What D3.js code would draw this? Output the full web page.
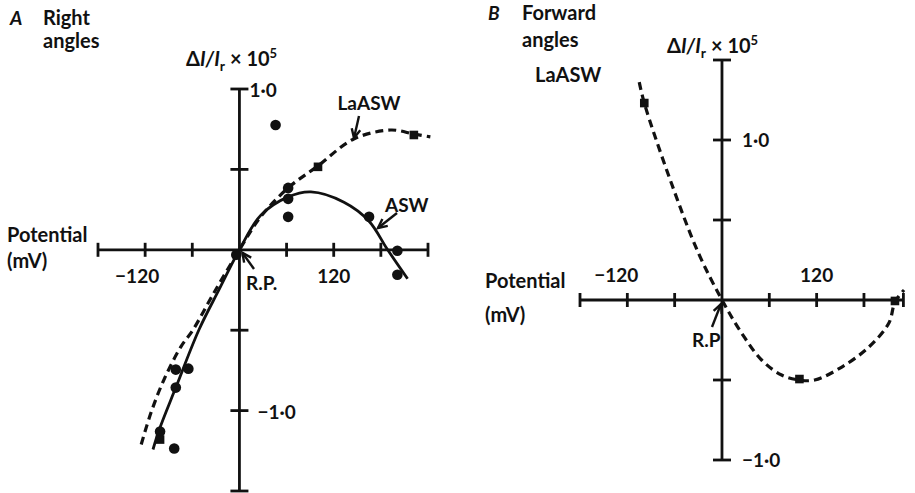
<!DOCTYPE html>
<html>
<head>
<meta charset="utf-8">
<script src="https://cdn.jsdelivr.net/npm/d3@7"></script>
<style>
  html, body { margin: 0; padding: 0; background: #fff; }
  text { font-family: Lato, "Open Sans", sans-serif; font-weight: 700; fill: #111; }
</style>
</head>
<body>
<svg id="chart" width="915" height="493"></svg>
<script>
// ---------- DATA (mV, ΔI/Ir ×10^5) ----------
// Panel A – right angles
const aAswPoints = [
  [46, 0.776], [62, 0.385], [62, 0.317], [62, 0.205], [165, 0.205],
  [201, -0.006], [201, -0.155], [-4, -0.031],
  [-81, -0.745], [-65, -0.739], [-81, -0.857], [-101, -1.13], [-83, -1.236]
];
const aLaAswPoints = [[-101, -1.18], [100, 0.516], [222, 0.714]];
const aAswCurve = [
  [-110, -1.242], [-102, -1.118], [-81, -0.857], [-51.5, -0.497], [-26, -0.248],
  [0, 0], [27, 0.214], [62, 0.329], [91, 0.36], [133, 0.296], [165, 0.178],
  [188, 0.005], [214, -0.18]
];
const aLaAswCurve = [
  [-125, -1.211], [-112.5, -1.012], [-96, -0.807], [-74.4, -0.602], [-59, -0.497],
  [-32.4, -0.267], [0, 0], [27, 0.205], [62, 0.385], [100, 0.522],
  [145.5, 0.689], [192.6, 0.745], [222, 0.72], [243, 0.702]
];
// Panel B – forward angles
const bLaAswPoints = [[-98.5, 1.231], [98.2, -0.494], [219.3, -0.006]];
const bLaAswCurve = [
  [-104.9, 1.362], [-98.5, 1.231], [-64.2, 0.731], [-29.9, 0.294], [0, 0],
  [24.8, -0.206], [50.2, -0.375], [75.6, -0.469], [98.2, -0.5], [117.6, -0.5],
  [151.9, -0.419], [186.2, -0.294], [211.6, -0.144], [219.3, -0.0125], [230.8, 0.0625]
];
// Axis ticks and labels
const aXTicks = [-180, -120, -60, 0, 60, 120, 180, 240];
const aYTicks = [-1.5, -1.0, -0.5, 0, 0.5, 1.0];
const bXTicks = [-180, -120, -60, 0, 60, 120, 180, 230];
const bYTicks = [-1.0, -0.5, 0, 0.5, 1.0, 1.5];
const xTickLabels = [[-120, "\u2212120"], [120, "120"]];

// ---------- DRAW ----------
const svg = d3.select("#chart");
svg.append("rect").attr("width", 915).attr("height", 493).attr("fill", "#fff");

function panel(cfg) {
  const x = d3.scaleLinear().domain(cfg.xDomain).range(cfg.xRange);
  const y = d3.scaleLinear().domain(cfg.yDomain).range(cfg.yRange);
  const g = svg.append("g");
  const x0 = x(0), y0 = y(0);
  const ink = "#111";
  g.append("line").attr("x1", x(cfg.xDomain[0])).attr("x2", x(cfg.xDomain[1]))
    .attr("y1", y0).attr("y2", y0).attr("stroke", ink).attr("stroke-width", 2.8);
  g.append("line").attr("x1", x0).attr("x2", x0)
    .attr("y1", y(cfg.yDomain[0])).attr("y2", y(cfg.yDomain[1])).attr("stroke", ink).attr("stroke-width", 2.8);
  g.selectAll(".xt").data(cfg.xTicks.filter(d => d !== 0)).join("line")
    .attr("x1", d => x(d)).attr("x2", d => x(d)).attr("y1", y0 - 7).attr("y2", y0 + 7)
    .attr("stroke", ink).attr("stroke-width", 2.8);
  g.selectAll(".yt").data(cfg.yTicks.filter(d => d !== 0)).join("line")
    .attr("y1", d => y(d)).attr("y2", d => y(d)).attr("x1", x0 - 9).attr("x2", x0 + 9)
    .attr("stroke", ink).attr("stroke-width", 2.8);
  const line = d3.line().x(d => x(d[0])).y(d => y(d[1])).curve(d3.curveCatmullRom.alpha(0.5));
  (cfg.solid || []).forEach(c => g.append("path").attr("d", line(c)).attr("fill", "none")
    .attr("stroke", ink).attr("stroke-width", 2.8));
  (cfg.dashed || []).forEach(c => g.append("path").attr("d", line(c)).attr("fill", "none")
    .attr("stroke", ink).attr("stroke-width", 3.2).attr("stroke-dasharray", "8,5"));
  g.selectAll(".dot").data(cfg.circles || []).join("circle")
    .attr("cx", d => x(d[0])).attr("cy", d => y(d[1])).attr("r", 5.3).attr("fill", ink);
  g.selectAll(".sq").data(cfg.squares || []).join("rect")
    .attr("x", d => x(d[0]) - 4.3).attr("y", d => y(d[1]) - 4.3)
    .attr("width", 8.6).attr("height", 8.6).attr("fill", ink);
  return { g, x, y };
}

function arrow(g, x1, y1, x2, y2) {
  g.append("line").attr("x1", x1).attr("y1", y1).attr("x2", x2).attr("y2", y2)
    .attr("stroke", "#111").attr("stroke-width", 2.4);
  const ang = Math.atan2(y2 - y1, x2 - x1), L = 10, sp = 0.45;
  const p = [[x2 - L * Math.cos(ang - sp), y2 - L * Math.sin(ang - sp)], [x2, y2],
             [x2 - L * Math.cos(ang + sp), y2 - L * Math.sin(ang + sp)]];
  g.append("polyline").attr("points", p.map(q => q.join(",")).join(" "))
    .attr("fill", "none").attr("stroke", "#111").attr("stroke-width", 2.4);
}

function yLabel(sel, px, py) {
  const t = sel.append("text").attr("x", px).attr("y", py).attr("font-size", 20).attr("font-weight", 500);
  t.append("tspan").text("\u0394");
  t.append("tspan").attr("font-style", "italic").text("I/I");
  t.append("tspan").attr("font-size", 14).attr("dy", 5).text("r");
  t.append("tspan").attr("dy", -5).text(" \u00d7 10");
  t.append("tspan").attr("font-size", 13).attr("dy", -8).text("5");
}

function txt(sel, s, px, py, opts = {}) {
  return sel.append("text").attr("x", px).attr("y", py).attr("font-size", opts.size || 19)
    .attr("text-anchor", opts.anchor || "start").attr("font-style", opts.italic ? "italic" : "normal")
    .text(s);
}

// Panel A
const A = panel({
  xDomain: [-180, 240], xRange: [98, 428],
  yDomain: [-1.5, 1.0], yRange: [491, 89],
  xTicks: aXTicks, yTicks: aYTicks,
  solid: [aAswCurve], dashed: [aLaAswCurve],
  circles: aAswPoints, squares: aLaAswPoints
});
txt(A.g, "A", 10, 25, { italic: true, size: 19 });
txt(A.g, "Right", 43, 25, { size: 20 });
txt(A.g, "angles", 43, 48, { size: 20 });
yLabel(A.g, 186, 66);
txt(A.g, "1\u00b70", A.x(0) + 10, A.y(1.0) + 8);
txt(A.g, "\u22121\u00b70", A.x(0) + 18, A.y(-1.0) + 8);
xTickLabels.forEach(([v, s]) => txt(A.g, s, A.x(v) + (v < 0 ? -8 : 0), A.y(0) + 33, { anchor: "middle" }));
txt(A.g, "Potential", 7, 242, { size: 20 });
txt(A.g, "(mV)", 7, 268, { size: 20 });
txt(A.g, "R.P.", 246, 290);
arrow(A.g, 254, 269, A.x(0) + 3, A.y(0) + 3);
txt(A.g, "LaASW", 369, 110, { anchor: "middle" });
arrow(A.g, 359, 116, 354, 138);
txt(A.g, "ASW", 385, 212);
arrow(A.g, 397, 213, 378, 228);

// Panel B
const B = panel({
  xDomain: [-180, 230], xRange: [580, 903.4],
  yDomain: [-1.0, 1.5], yRange: [460, 60],
  xTicks: bXTicks, yTicks: bYTicks,
  dashed: [bLaAswCurve], squares: bLaAswPoints
});
txt(B.g, "B", 488, 20, { italic: true, size: 19 });
txt(B.g, "Forward", 522, 20, { size: 20 });
txt(B.g, "angles", 522, 47, { size: 20 });
txt(B.g, "LaASW", 535, 82, { size: 20 });
yLabel(B.g, 667, 53);
txt(B.g, "1\u00b70", B.x(0) + 20, B.y(1.0) + 7);
txt(B.g, "\u22121\u00b70", B.x(0) + 20, B.y(-1.0) + 7);
xTickLabels.forEach(([v, s]) => txt(B.g, s, B.x(v) + (v < 0 ? -11 : 0), B.y(0) - 18, { anchor: "middle" }));
txt(B.g, "Potential", 485, 288, { size: 20 });
txt(B.g, "(mV)", 485, 322, { size: 20 });
txt(B.g, "R.P", 692, 347);
arrow(B.g, 712, 327, B.x(0) - 1, B.y(0) + 4);
</script>
</body>
</html>
